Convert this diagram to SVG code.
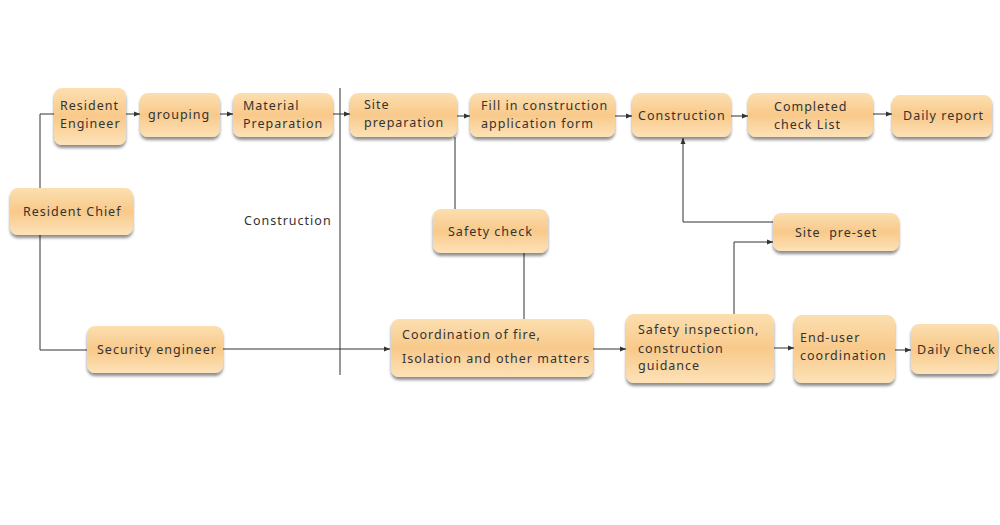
<svg xmlns="http://www.w3.org/2000/svg" width="1000" height="525" viewBox="0 0 1000 525">
<style>
.box{fill:url(#g);filter:url(#sh)}
.t{font-family:"Noto Sans","Liberation Sans",sans-serif;font-size:12.5px;letter-spacing:1px;fill:#333}
.c{fill:none;stroke:#333;stroke-width:1}
.a{marker-end:url(#ar)}
</style>
<defs>
<linearGradient id="g" x1="0" y1="0" x2="0" y2="1">
<stop offset="0" stop-color="#fcdfb0"/>
<stop offset="0.5" stop-color="#f8c98a"/>
<stop offset="1" stop-color="#fde2b8"/>
</linearGradient>
<filter id="sh" x="-20%" y="-20%" width="140%" height="160%">
<feGaussianBlur in="SourceAlpha" stdDeviation="1.8"/>
<feOffset dx="0" dy="3" result="b"/>
<feComponentTransfer><feFuncA type="linear" slope="0.45"/></feComponentTransfer>
<feMerge><feMergeNode/><feMergeNode in="SourceGraphic"/></feMerge>
</filter>
<marker id="ar" markerWidth="8" markerHeight="8" refX="6" refY="3" orient="auto" markerUnits="userSpaceOnUse">
<path d="M0,0.5 L6,3 L0,5.5 Z" fill="#333"/>
</marker>
</defs>
<rect width="1000" height="525" fill="#fff"/>
<g id="connectors">
<line class="c" x1="340" y1="88" x2="340" y2="375"/>
<polyline class="c" points="40,188 40,114 54,114"/>
<polyline class="c" points="40,235 40,350 87,350"/>
<line class="c a" x1="126" y1="114" x2="140" y2="114"/>
<line class="c a" x1="220" y1="114" x2="233" y2="114"/>
<line class="c a" x1="333" y1="114" x2="350" y2="114"/>
<line class="c a" x1="457" y1="116" x2="470" y2="116"/>
<line class="c a" x1="615" y1="116" x2="632" y2="116"/>
<line class="c a" x1="731" y1="116" x2="748" y2="116"/>
<line class="c a" x1="873" y1="114" x2="892" y2="114"/>
<line class="c" x1="455" y1="137" x2="455" y2="209"/>
<line class="c" x1="524" y1="253" x2="524" y2="319"/>
<line class="c a" x1="223" y1="349" x2="390" y2="349"/>
<line class="c a" x1="593" y1="349" x2="626" y2="349"/>
<polyline class="c a" points="734,314 734,242 773,242"/>
<polyline class="c a" points="773,222 683,222 683,138"/>
<line class="c a" x1="774" y1="348" x2="794" y2="348"/>
<line class="c a" x1="895" y1="350" x2="911" y2="350"/>
</g>
<text class="t" x="244" y="225">Construction</text>
<g id="resident-engineer"><rect class="box" x="54" y="88" width="72" height="57" rx="8"/><text class="t" x="60" y="109.5">Resident</text><text class="t" x="60" y="127.5">Engineer</text></g>
<g id="grouping"><rect class="box" x="140" y="93" width="80" height="44" rx="8"/><text class="t" x="148" y="119">grouping</text></g>
<g id="material-preparation"><rect class="box" x="233" y="93" width="100" height="44" rx="8"/><text class="t" x="243" y="109.5">Material</text><text class="t" x="243" y="127.5">Preparation</text></g>
<g id="resident-chief"><rect class="box" x="10" y="188" width="123" height="47" rx="8"/><text class="t" x="23" y="215.5">Resident Chief</text></g>
<g id="site-preparation"><rect class="box" x="350" y="93" width="107" height="44" rx="8"/><text class="t" x="364" y="108.5">Site</text><text class="t" x="364" y="126.5">preparation</text></g>
<g id="fill-in"><rect class="box" x="470" y="93" width="145" height="44" rx="8"/><text class="t" x="481" y="110">Fill in construction</text><text class="t" x="481" y="127.5">application form</text></g>
<g id="construction"><rect class="box" x="632" y="93" width="99" height="44" rx="8"/><text class="t" x="638" y="119.5">Construction</text></g>
<g id="completed-check-list"><rect class="box" x="748" y="93" width="125" height="44" rx="8"/><text class="t" x="774" y="110.5">Completed</text><text class="t" x="774" y="128.5">check List</text></g>
<g id="daily-report"><rect class="box" x="892" y="95" width="100" height="42" rx="8"/><text class="t" x="903" y="120">Daily report</text></g>
<g id="safety-check"><rect class="box" x="433" y="209" width="115" height="44" rx="8"/><text class="t" x="448" y="235.5">Safety check</text></g>
<g id="site-pre-set"><rect class="box" x="773" y="213" width="126" height="38" rx="8"/><text class="t" x="795" y="236.5" xml:space="preserve">Site  pre-set</text></g>
<g id="security-engineer"><rect class="box" x="87" y="326" width="136" height="47" rx="8"/><text class="t" x="97" y="353.5">Security engineer</text></g>
<g id="coordination"><rect class="box" x="391" y="319" width="202" height="58" rx="8"/><text class="t" x="402" y="338.5">Coordination of fire,</text><text class="t" x="402" y="362.5">Isolation and other matters</text></g>
<g id="safety-inspection"><rect class="box" x="626" y="314" width="148" height="69" rx="8"/><text class="t" x="638" y="333.5">Safety inspection,</text><text class="t" x="638" y="352.5">construction</text><text class="t" x="638" y="369.5">guidance</text></g>
<g id="end-user"><rect class="box" x="794" y="315" width="101" height="68" rx="8"/><text class="t" x="800" y="341.5">End-user</text><text class="t" x="800" y="359.5">coordination</text></g>
<g id="daily-check"><rect class="box" x="911" y="324" width="87" height="50" rx="8"/><text class="t" x="917" y="353.5">Daily Check</text></g>
</svg>
